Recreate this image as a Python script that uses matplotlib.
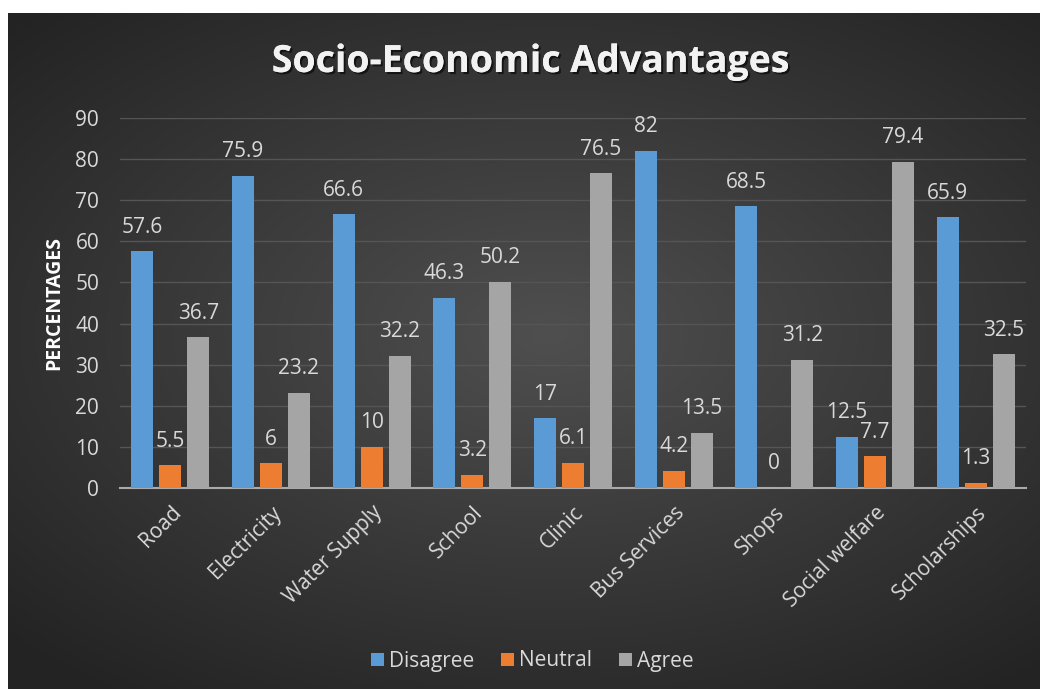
import numpy as np
import matplotlib.pyplot as plt
import matplotlib.patheffects as pe

categories = ['Road', 'Electricity', 'Water Supply', 'School', 'Clinic',
              'Bus Services', 'Shops', 'Social welfare', 'Scholarships']
disagree = [57.6, 75.9, 66.6, 46.3, 17, 82, 68.5, 12.5, 65.9]
neutral = [5.5, 6, 10, 3.2, 6.1, 4.2, 0, 7.7, 1.3]
agree = [36.7, 23.2, 32.2, 50.2, 76.5, 13.5, 31.2, 79.4, 32.5]
series_names = ['Disagree', 'Neutral', 'Agree']
yticks = [0, 10, 20, 30, 40, 50, 60, 70, 80, 90]

colors = ['#5B9BD5', '#ED7D31', '#A5A5A5']
txt = '#d9d9d9'
plt.rcParams['font.family'] = ['Open Sans', 'DejaVu Sans']

fig = plt.figure(figsize=(10.4, 6.89), dpi=100)
fig.patch.set_facecolor('white')

# dark radial background panel
bg = fig.add_axes([8 / 1040, 0, 1 - 8 / 1040, 1 - 13 / 689])
yy, xx = np.mgrid[-1:1:300j, -1:1:400j]
r = np.sqrt(((xx - 0.05) / 1.1) ** 2 + ((yy + 0.05) / 1.0) ** 2)
shade = np.clip(0.31 - 0.13 * r, 0.14, 0.31)
bg.imshow(np.dstack([shade] * 3), aspect='auto', extent=[0, 1, 0, 1])
bg.set_axis_off()

ax = fig.add_axes([120 / 1040, 1 - 488 / 689, (1026 - 120) / 1040, (488 - 118) / 689])
ax.patch.set_alpha(0)
x = np.arange(len(categories))
w = 0.22
off = 0.278
for i, (vals, name) in enumerate(zip([disagree, neutral, agree], series_names)):
    pos = x + (i - 1) * off
    ax.bar(pos, vals, w, color=colors[i], label=name, zorder=3)
    for p, v in zip(pos, vals):
        ax.text(p, v + 3.3, f'{v:g}', ha='center', va='bottom',
                color=txt, fontsize=15)

ax.set_xlim(-0.5, len(categories) - 0.5)
ax.set_ylim(0, 90)
ax.set_yticks(yticks)
ax.yaxis.grid(True, color='#555555', linewidth=1, zorder=0)
for s in ['top', 'right', 'left']:
    ax.spines[s].set_visible(False)
ax.spines['bottom'].set_color('#aaaaaa')
ax.spines['bottom'].set_linewidth(1.5)
ax.tick_params(axis='both', length=0, colors=txt, labelsize=15)
ax.tick_params(axis='y', pad=15)
ax.set_xticks(x)
ax.set_xticklabels(categories, rotation=45, ha='right', rotation_mode='anchor')
ax.tick_params(axis='x', pad=10)
ax.set_ylabel('PERCENTAGES', color='white', fontsize=14, fontweight='bold',
              labelpad=8)

fig.text(0.51, 1 - 62 / 689, 'Socio-Economic Advantages', ha='center',
         va='center', color='#f2f2f2', fontsize=27, fontweight='bold',
         path_effects=[pe.withSimplePatchShadow(offset=(1.5, -1.5),
                                                shadow_rgbFace='black', alpha=0.6),
                       pe.Normal()])

leg = fig.legend(loc='center', bbox_to_anchor=(0.512, 1 - 661 / 689), ncol=3,
                 frameon=False, fontsize=15, handlelength=0.6, handleheight=0.6,
                 handletextpad=0.25, columnspacing=1.3)
for t in leg.get_texts():
    t.set_color(txt)

fig.savefig('out.png', dpi=100)
